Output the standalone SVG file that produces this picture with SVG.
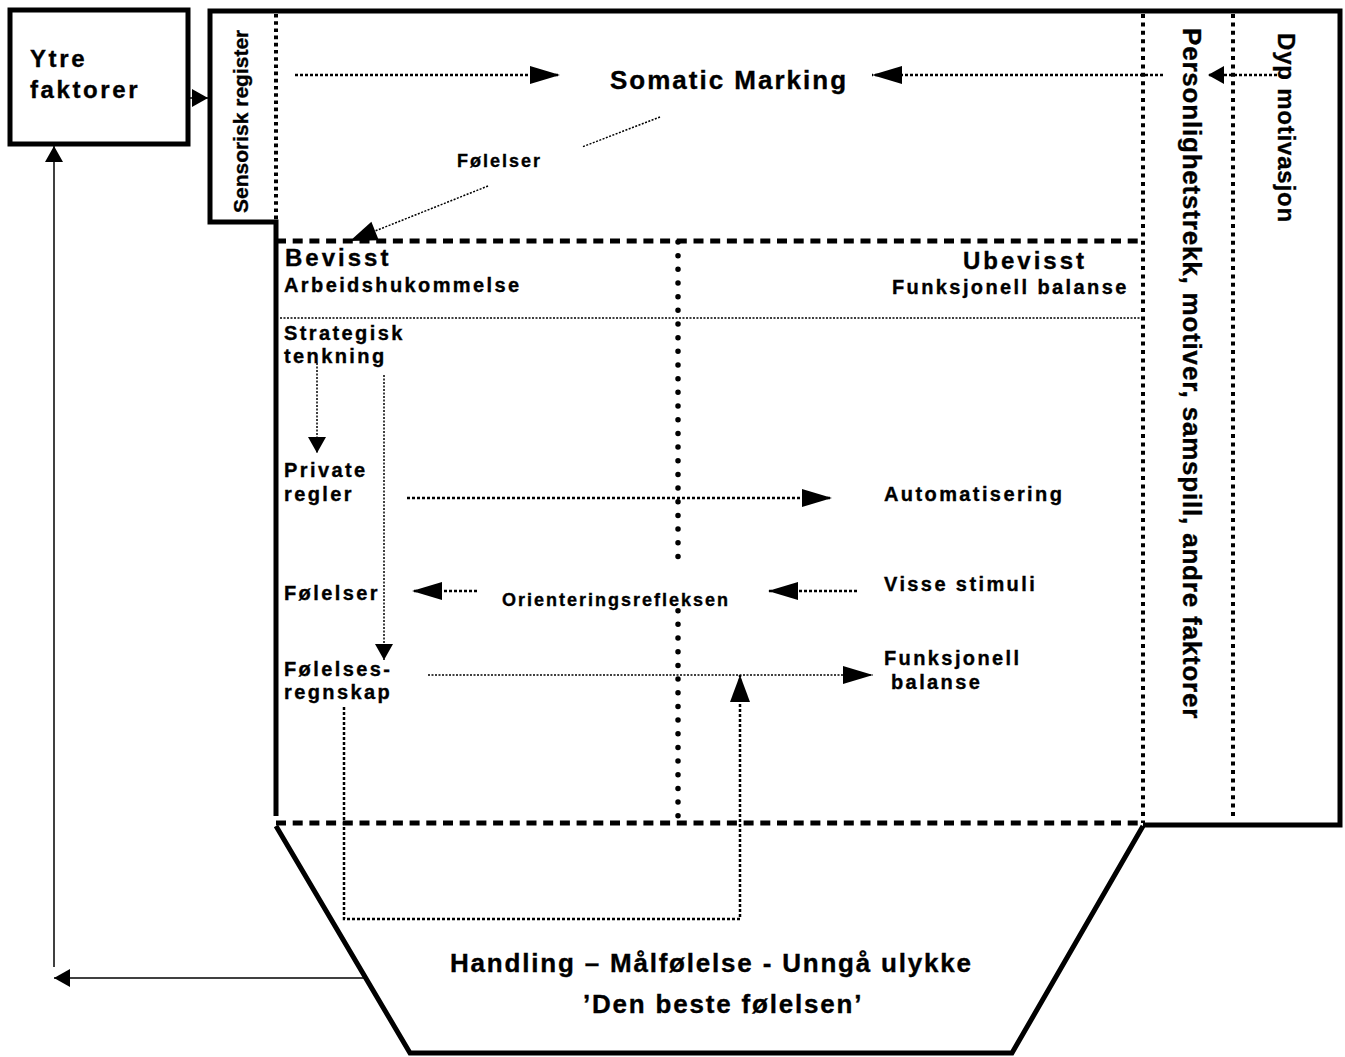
<svg xmlns="http://www.w3.org/2000/svg" width="1345" height="1057" viewBox="0 0 1345 1057">
<style>
text{font-family:"Liberation Sans",Arial,sans-serif;font-weight:bold;fill:#000;stroke:#000;stroke-width:0.35px}
.t19{font-size:20px;letter-spacing:2.4px}
.t18{font-size:18px;letter-spacing:2px}
.t24{font-size:24px;letter-spacing:3px}
.t23{font-size:26px;letter-spacing:1.8px}
.frame{fill:none;stroke:#000;stroke-width:5;stroke-linejoin:miter}
.dash{fill:none;stroke:#000;stroke-width:5;stroke-dasharray:10 6.7}
.sq{fill:none;stroke:#000;stroke-width:4;stroke-dasharray:4 4.4}
.sq2{fill:none;stroke:#000;stroke-width:4;stroke-dasharray:3.6 3.6}
.rd{fill:none;stroke:#000;stroke-width:5.5;stroke-linecap:round;stroke-dasharray:0 13.67}
.dot{fill:none;stroke:#000;stroke-width:2.5;stroke-dasharray:3 2}
.fine{fill:none;stroke:#000;stroke-width:1.5;stroke-dasharray:2 1.5}
.thin{fill:none;stroke:#000;stroke-width:1.5}
</style>
<defs>
<marker id="big" markerUnits="userSpaceOnUse" markerWidth="30" markerHeight="18" refX="30" refY="9" orient="auto" overflow="visible"><path d="M0,0L30,9L0,18z" fill="#000"/></marker>
<marker id="mid" markerUnits="userSpaceOnUse" markerWidth="27" markerHeight="20" refX="27" refY="10" orient="auto" overflow="visible"><path d="M0,0L27,10L0,20z" fill="#000"/></marker>
<marker id="small" markerUnits="userSpaceOnUse" markerWidth="16" markerHeight="18" refX="16" refY="9" orient="auto" overflow="visible"><path d="M0,0L16,9L0,18z" fill="#000"/></marker>
</defs>

<g id="ytre-faktorer">
<rect x="10" y="10" width="178" height="134" class="frame" stroke-linejoin="round"/>
<text x="30" y="67" class="t24" style="letter-spacing:2.6px">Ytre</text>
<text x="30" y="98" class="t24" style="letter-spacing:2.6px">faktorer</text>
</g>

<g id="outer-frame">
<path d="M276,816 V222 H210 V11 H1340 V825 H1143" class="frame"/>
</g>

<g id="sensorisk-register">
<line x1="276" y1="14" x2="276" y2="220" class="sq2"/>
<text transform="translate(248,213) rotate(-90)" font-size="21">Sensorisk register</text>
</g>

<g id="somatic-marking">
<text x="610" y="89" style="font-size:26px;letter-spacing:2px">Somatic Marking</text>
</g>

<g id="folelser-top">
<text x="457" y="167" class="t18">Følelser</text>
</g>

<g id="personlighet">
<line x1="1143" y1="14" x2="1143" y2="823" class="sq"/>
<text transform="translate(1183,28) rotate(90)" style="font-size:26px;letter-spacing:0.8px">Personlighetstrekk, motiver, samspill, andre faktorer</text>
</g>

<g id="dyp-motivasjon">
<line x1="1233" y1="14" x2="1233" y2="820" class="sq"/>
<text transform="translate(1278,33) rotate(90)" style="font-size:24px;letter-spacing:0.8px">Dyp motivasjon</text>
</g>

<g id="bevisst">
<line x1="276" y1="241" x2="1143" y2="241" class="dash"/>
<line x1="280" y1="318" x2="1143" y2="318" class="fine"/>
<text x="285" y="266" class="t24">Bevisst</text>
<text x="284" y="292" class="t19">Arbeidshukommelse</text>
</g>

<g id="ubevisst">
<text x="963" y="269" class="t24">Ubevisst</text>
<text x="892" y="294" class="t19">Funksjonell balanse</text>
</g>

<g id="skille">
<line x1="678" y1="242" x2="678" y2="558" class="rd"/>
<line x1="678" y1="610.7" x2="678" y2="817" class="rd"/>
</g>

<g id="strategisk"><text x="284" y="340" class="t19">Strategisk</text><text x="284" y="363" class="t19">tenkning</text></g>
<g id="private-regler"><text x="284" y="477" class="t19">Private</text><text x="284" y="501" class="t19">regler</text></g>
<g id="automatisering"><text x="884" y="501" class="t19">Automatisering</text></g>
<g id="folelser"><text x="284" y="600" class="t19">Følelser</text></g>
<g id="orienteringsrefleksen"><text x="502" y="606" class="t18">Orienteringsrefleksen</text></g>
<g id="visse-stimuli"><text x="884" y="591" class="t19">Visse stimuli</text></g>
<g id="folelsesregnskap"><text x="284" y="676" class="t19">Følelses-</text><text x="284" y="699" class="t19">regnskap</text></g>
<g id="funksjonell-balanse"><text x="884" y="665" class="t19">Funksjonell</text><text x="891" y="689" class="t19">balanse</text></g>

<g id="handling">
<path d="M276,826 L410,1053 H1012 L1143,826" class="frame"/>
<line x1="276" y1="823" x2="1143" y2="823" class="dash"/>
<text x="450" y="972" class="t23">Handling – Målfølelse - Unngå ulykke</text>
<text x="583" y="1013" class="t23">’Den beste følelsen’</text>
</g>

<g id="connectors">
<line x1="188" y1="98" x2="208" y2="98" class="thin" marker-end="url(#small)"/>
<line x1="54" y1="967" x2="54" y2="146" class="thin" marker-end="url(#small)"/>
<line x1="366" y1="978" x2="54" y2="978" class="thin" marker-end="url(#small)"/>
<line x1="295" y1="75" x2="560" y2="75" class="dot" marker-end="url(#big)"/>
<line x1="1163" y1="75" x2="872" y2="75" class="dot" marker-end="url(#big)"/>
<line x1="1277" y1="75" x2="1208" y2="75" class="dot" marker-end="url(#small)"/>
<line x1="660" y1="117" x2="582" y2="147" class="fine"/>
<line x1="488" y1="186" x2="350" y2="241" class="fine" marker-end="url(#mid)"/>
<line x1="317" y1="363" x2="317" y2="453" class="fine" stroke-width="1.2" marker-end="url(#small)"/>
<line x1="384" y1="375" x2="384" y2="660" class="fine" stroke-width="1.2" marker-end="url(#small)"/>
<line x1="407" y1="498" x2="832" y2="498" class="dot" marker-end="url(#big)"/>
<line x1="477" y1="591" x2="412" y2="591" class="dot" marker-end="url(#big)"/>
<line x1="857" y1="591" x2="768" y2="591" class="dot" marker-end="url(#big)"/>
<line x1="428" y1="675" x2="873" y2="675" class="fine" marker-end="url(#big)"/>
<path d="M344,707 V919 H740 V675" class="dot" marker-end="url(#mid)"/>
</g>
</svg>
